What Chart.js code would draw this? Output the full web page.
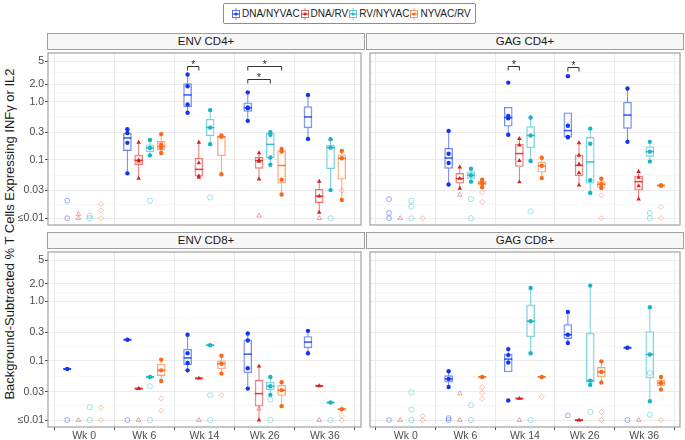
<!DOCTYPE html>
<html>
<head>
<meta charset="utf-8">
<script src="https://cdn.jsdelivr.net/npm/chart.js@4.4.1/dist/chart.umd.min.js"></script>
<style>
  html, body { margin: 0; padding: 0; }
  body { width: 685px; height: 440px; position: relative; overflow: hidden; background: #fff; font-family: 'Liberation Sans', Arial, sans-serif; }
  canvas { position: absolute; }
  .strip { position: absolute; box-sizing: border-box; height: 17px; border: 1.2px solid #a0a0a0; background: #f7f7f7; color: #1a1a1a; font-size: 11.5px; line-height: 15px; text-align: center; }
  #legend { position: absolute; left: 223px; top: 3px; height: 21px; box-sizing: border-box; border: 1.2px solid #8c8c8c; border-radius: 2px; display: flex; align-items: center; padding: 0 4px 0 7px; font-size: 10px; color: #1a1a1a; white-space: nowrap; }
  #legend svg { margin-right: 1px; }
  #ytitle { position: absolute; width: 440px; height: 16px; left: -210px; top: 226px; transform: rotate(-90deg); text-align: center; font-size: 13px; line-height: 16px; color: #1a1a1a; white-space: nowrap; }
</style>
</head>
<body>
<div id="legend"></div>
<div id="ytitle">Background-Subtracted % T Cells Expressing INFγ or IL2</div>
<div class="strip" style="left:47px;top:33px;width:318px">ENV CD4+</div>
<div class="strip" style="left:366px;top:33px;width:318px">GAG CD4+</div>
<div class="strip" style="left:47px;top:232px;width:318px">ENV CD8+</div>
<div class="strip" style="left:366px;top:232px;width:318px">GAG CD8+</div>
<canvas id="envCd4" width="348" height="182" style="left:18px;top:48px"></canvas>
<canvas id="gagCd4" width="320" height="182" style="left:365px;top:48px"></canvas>
<canvas id="envCd8" width="348" height="193" style="left:18px;top:247px"></canvas>
<canvas id="gagCd8" width="320" height="193" style="left:365px;top:247px"></canvas>
<script>
(function(){
    "use strict";

    const weeks = ['Wk 0', 'Wk 6', 'Wk 14', 'Wk 26', 'Wk 36'];
    const groups = ['DNA/NYVAC', 'DNA/RV', 'RV/NYVAC', 'NYVAC/RV'];
    const yMajor = [0.01, 0.03, 0.1, 0.3, 1, 2, 5];
    const yMajorLabels = ['≤0.01', '0.03', '0.1', '0.3', '1.0', '2.0', '5'];

    // box stats per group per week: [lower whisker, q1, median, q3, upper whisker]
    const envCd4Box = [
        [null, [0.059,0.145,0.239,0.286,0.337], [0.647,0.826,1.31,2.05,2.93], [0.47,0.681,0.784,0.962,1.45], [0.23,0.355,0.548,0.826,1.31]],
        [null, [0.048,0.0835,0.0987,0.121,0.2], [0.05,0.0527,0.069,0.107,0.2], [0.047,0.0718,0.0975,0.111,0.132], [0.0126,0.0185,0.0239,0.0312,0.043]],
        [null, [0.12,0.138,0.161,0.182,0.221], [0.187,0.261,0.36,0.501,0.718], [0.0826,0.108,0.185,0.29,0.301], [0.0304,0.0708,0.163,0.18,0.227]],
        [null, [0.132,0.147,0.171,0.21,0.278], [0.057,0.118,0.25,0.258,0.264], [0.0255,0.04,0.0805,0.145,0.155], [0.0205,0.047,0.107,0.123,0.143]]
    ];
    const envCd4Pts = [
        [[], [0.337,0.29,0.197,0.059], [2.93,1.84,0.9,0.647], [1.45,0.8,0.77,0.47], [1.31,0.23]],
        [[], [0.2,0.1,0.095,0.048], [0.2,0.089,0.053,0.05], [0.132,0.1,0.094,0.047], [0.043,0.024,0.0126]],
        [[], [0.221,0.161,0.12], [0.718,0.36,0.187], [0.301,0.27,0.11,0.083], [0.227,0.163,0.0304]],
        [[], [0.278,0.185,0.16,0.132], [0.264,0.25,0.057], [0.155,0.14,0.046,0.0255], [0.143,0.107,0.0205]]
    ];
    const envCd4Open = [
        [[0.02,0.01], [], [], [], []],
        [[0.0118,0.01], [], [], [0.011], [0.01]],
        [[0.011,0.01], [0.02], [0.0227], [], [0.01]],
        [[0.0175,0.0136,0.01], [], [], [], [0.03]]
    ];
    // [week, from group, to group, bracket level]
    const envCd4Sig = [[2,0,1,4.1], [3,0,3,4.1], [3,0,2,2.5]];

    const gagCd4Box = [
        [null, [0.0378,0.0718,0.108,0.158,0.316], [0.271,0.38,0.535,0.805,0.805], [0.245,0.248,0.32,0.647,0.647], [0.205,0.35,0.591,0.986,1.69]],
        [null, [0.0325,0.04,0.048,0.059,0.0755], [0.0419,0.0774,0.129,0.187,0.233], [0.0369,0.0535,0.0805,0.123,0.197], [0.0213,0.0304,0.0425,0.0527,0.063]],
        [null, [0.0425,0.0482,0.0548,0.0623,0.0708], [0.0962,0.161,0.264,0.373,0.535], [0.0271,0.0398,0.0927,0.245,0.346], [0.0938,0.115,0.139,0.169,0.205]],
        [null, [0.0341,0.0369,0.0398,0.043,0.0458], [0.0489,0.0615,0.0794,0.0927,0.109], [0.033,0.0337,0.0383,0.0425,0.0477], [0.0364,0.0364,0.0364,0.0364,0.0364]]
    ];
    const gagCd4Pts = [
        [[], [0.316,0.128,0.089,0.038], [2.13,0.57,0.52,0.271], [2.75,0.388,0.248,0.245], [1.69,0.205]],
        [[], [0.0755,0.048,0.0325], [0.233,0.18,0.0975,0.0419], [0.197,0.12,0.085,0.06,0.037], [0.063,0.05,0.036,0.0213]],
        [[], [0.0708,0.0548,0.0425], [0.535,0.264,0.0962], [0.346,0.19,0.045,0.0271], [0.205,0.139,0.0938]],
        [[], [0.0458,0.0398,0.0341], [0.109,0.0794,0.0489], [0.0477,0.0383,0.033], [0.0364,0.0364]]
    ];
    const gagCd4Open = [
        [[0.0213,0.0123,0.01], [], [], [], []],
        [[0.01], [0.0251], [], [], []],
        [[0.02,0.0158,0.01], [0.0213,0.01], [0.0131], [], [0.0123,0.01]],
        [[0.01], [0.0282,0.019], [], [0.0248,0.01], [0.0155,0.01]]
    ];
    const gagCd4Sig = [[2,0,1,4.1], [3,0,1,4.0]];

    const envCd8Box = [
        [[0.073,0.073,0.073,0.073,0.073], [0.227,0.227,0.227,0.227,0.227], [0.0692,0.0863,0.112,0.158,0.275], [0.034,0.0625,0.13,0.227,0.29], [0.134,0.166,0.207,0.258,0.321]],
        [null, [0.034,0.034,0.034,0.034,0.034], [0.0508,0.0508,0.0508,0.0508,0.0508], [0.01,0.0172,0.028,0.047,0.081], [0.0378,0.0378,0.0378,0.0378,0.0378]],
        [null, [0.0535,0.0535,0.0535,0.0535,0.0535], [0.184,0.184,0.184,0.184,0.184], [0.0267,0.0327,0.0372,0.044,0.0535], [0.0198,0.0198,0.0198,0.0198,0.0198]],
        [null, [0.0458,0.0563,0.0692,0.0885,0.105], [0.0609,0.073,0.0896,0.1,0.122], [0.0172,0.026,0.0319,0.0387,0.0435], [0.0153,0.0153,0.0153,0.0153,0.0153]]
    ];
    const envCd8Pts = [
        [[0.073], [0.227], [0.275,0.135,0.092,0.0692], [0.29,0.22,0.075,0.034], [0.321,0.134]],
        [[], [0.034,0.034], [0.0508], [0.081,0.01], [0.0378]],
        [[], [0.0535], [0.184], [0.0535,0.0372,0.0267], [0.0198]],
        [[], [0.105,0.0692,0.0458], [0.122,0.0896,0.0609], [0.0435,0.032,0.0172], [0.0153]]
    ];
    const envCd8Open = [
        [[0.01], [0.01], [], [], []],
        [[0.01], [0.01], [0.01], [0.0155], [0.01]],
        [[0.0166,0.01], [0.0372,0.01], [0.0263,0.01], [0.0222,0.01], [0.01]],
        [[0.0162,0.01], [0.0231,0.0145], [0.0263], [], [0.0117,0.01]]
    ];

    const gagCd8Box = [
        [null, [0.0363,0.0435,0.0495,0.0563,0.0667], [0.0649,0.0649,0.107,0.13,0.158], [0.2,0.236,0.275,0.41,0.67], [0.166,0.166,0.166,0.166,0.166]],
        [null, null, [0.0231,0.0231,0.0231,0.0231,0.0231], [0.01,0.01,0.01,0.01,0.01], null],
        [null, null, [0.134,0.254,0.467,0.879,1.7], [0.0393,0.0435,0.0464,0.294,1.86], [0.0208,0.0514,0.128,0.313,0.803]],
        [null, [0.0535,0.0535,0.0535,0.0535,0.0535], [0.0535,0.0535,0.0535,0.0535,0.0535], [0.043,0.0535,0.0649,0.0778,0.098], [0.0327,0.0383,0.0424,0.047,0.0535]]
    ];
    const gagCd8Pts = [
        [[], [0.0667,0.0495,0.0363], [0.158,0.125,0.094,0.0214], [0.67,0.275,0.2], [0.166]],
        [[], [], [0.0231], [0.01], []],
        [[], [], [1.7,0.467,0.134], [1.86,0.0464,0.0393], [0.803,0.128,0.0208]],
        [[], [0.0535], [0.0535], [0.098,0.0649,0.043], [0.0535,0.0424,0.0327]]
    ];
    const gagCd8Open = [
        [[0.01], [0.0108,0.01], [], [0.012], [0.01]],
        [[0.01], [0.028,0.01], [0.01], [], [0.01]],
        [[0.0292,0.0151,0.01], [0.0179,0.01], [0.01], [0.0138], [0.0625,0.0123]],
        [[0.0117,0.01], [0.0359,0.0288,0.0229], [0.0247], [0.0137,0.01], [0.01]]
    ];

    const colors = ['#1136F2', '#D81F1B', '#19B4C6', '#F8691A'];
    const fillShapes = ['circle', 'triangle', 'circle', 'circle'];
    const openShapes = ['rectRounded', 'triangle', 'circle', 'rectRot'];
    const dodge = [-0.281, -0.094, 0.094, 0.281];
    const yMinor = yMajor.slice(1).map((v, i) => Math.sqrt(v * yMajor[i]));
    const yTicks = yMajor.concat(yMinor).sort((a, b) => a - b);
    const isMajor = v => yMajor.indexOf(v) >= 0;

    function rgba(hex, a) {
        const n = parseInt(hex.slice(1), 16);
        return `rgba(${n >> 16},${(n >> 8) & 255},${n & 255},${a})`;
    }

    // whiskers + medians drawn right after each group's box layer
    const boxPlugin = {
        id: 'boxExtras',
        afterDatasetDraw(chart, args, opts) {
            const ds = chart.data.datasets[args.index];
            if (ds.type !== 'bar') return;
            const gi = groups.indexOf(ds.label);
            const xs = chart.scales.x, ys = chart.scales.y, ctx = chart.ctx;
            const c = colors[gi];
            ctx.save();
            opts.stats[gi].forEach((s, wi) => {
                if (!s) return;
                const x = xs.getPixelForValue(wi + dodge[gi]);
                const [lo, q1, med, q3, hi] = s.map(v => ys.getPixelForValue(v));
                ctx.strokeStyle = rgba(c, 0.6); ctx.lineWidth = 1;
                ctx.beginPath();
                ctx.moveTo(x, lo); ctx.lineTo(x, q1);
                ctx.moveTo(x, q3); ctx.lineTo(x, hi);
                ctx.stroke();
                const flat = s[1] === s[3];
                ctx.strokeStyle = rgba(c, flat ? 0.9 : 0.85); ctx.lineWidth = flat ? 2 : 1.5;
                ctx.beginPath(); ctx.moveTo(x - 4, med); ctx.lineTo(x + 4, med); ctx.stroke();
            });
            ctx.restore();
        },
        afterDatasetsDraw(chart, args, opts) {
            const xs = chart.scales.x, ys = chart.scales.y, ctx = chart.ctx;
            ctx.save();
            ctx.strokeStyle = '#333'; ctx.fillStyle = '#222'; ctx.lineWidth = 1;
            ctx.font = '10px "Liberation Sans", Arial'; ctx.textAlign = 'center'; ctx.textBaseline = 'alphabetic';
            (opts.sig || []).forEach(([wi, g1, g2, lvl]) => {
                const x1 = xs.getPixelForValue(wi + dodge[g1]), x2 = xs.getPixelForValue(wi + dodge[g2]);
                const y = Math.round(ys.getPixelForValue(lvl)) + 0.5;
                ctx.beginPath(); ctx.moveTo(x1, y + 4); ctx.lineTo(x1, y); ctx.lineTo(x2, y); ctx.lineTo(x2, y + 4); ctx.stroke();
                ctx.fillText('*', (x1 + x2) / 2, y + 1);
            });
            const a = chart.chartArea;
            ctx.strokeStyle = '#a0a0a0'; ctx.lineWidth = 1.2;
            ctx.strokeRect(a.left, a.top, a.right - a.left, a.bottom - a.top);
            ctx.restore();
        }
    };

    function makePanel(id, box, pts, open, sig, showY, showX) {
        const datasets = [];
        groups.forEach((g, gi) => {
            const boxData = [], ptData = [], openData = [];
            box[gi].forEach((s, wi) => { if (s && s[1] < s[3]) boxData.push({ x: wi + dodge[gi], y: [s[1], s[3]] }); });
            pts[gi].forEach((arr, wi) => arr.forEach(v => ptData.push({ x: wi + dodge[gi], y: v })));
            open[gi].forEach((arr, wi) => arr.forEach(v => openData.push({ x: wi + dodge[gi], y: v })));
            datasets.push({ type: 'bar', label: g, data: boxData, order: 3, grouped: false, barThickness: 8,
                borderWidth: 1, borderSkipped: false, borderColor: rgba(colors[gi], 0.6), backgroundColor: 'rgba(255,255,255,0.5)' });
            datasets.push({ type: 'scatter', label: g + ' open', data: openData, order: 2, pointStyle: openShapes[gi],
                pointRadius: 2.6, borderWidth: 1, borderColor: rgba(colors[gi], 0.4), backgroundColor: 'rgba(0,0,0,0)' });
            datasets.push({ type: 'scatter', label: g + ' pts', data: ptData, order: 1, pointStyle: fillShapes[gi],
                pointRadius: gi === 1 ? 2.6 : 2.2, borderWidth: 0, backgroundColor: colors[gi] });
        });

        const tickFont = { family: '"Liberation Sans", Arial, sans-serif', size: 10.5 };
        new Chart(document.getElementById(id), {
            type: 'scatter',
            data: { datasets },
            options: {
                responsive: false, animation: false, events: [],
                layout: { padding: { top: 2, right: 2, left: showY ? 0 : 2, bottom: showX ? 0 : 2 } },
                plugins: { legend: { display: false }, tooltip: { enabled: false }, boxExtras: { stats: box, sig } },
                scales: {
                    x: {
                        type: 'linear', min: -0.6, max: 4.6, offset: false,
                        afterBuildTicks: s => { s.ticks = weeks.map((w, i) => ({ value: i })); },
                        afterFit: s => { s.height = showX ? 13 : 0; },
                        ticks: { display: showX, autoSkip: false, maxRotation: 0, padding: 0, color: '#4d4d4d', font: tickFont,
                            callback: v => weeks[v] },
                        grid: { color: '#ebebeb', lineWidth: 1, drawTicks: showX, tickLength: 3, tickColor: '#4d4d4d', tickWidth: 1 },
                        border: { display: false }
                    },
                    y: {
                        type: 'logarithmic', min: 0.00765, max: 6.87,
                        afterBuildTicks: s => { s.ticks = yTicks.map(v => ({ value: v })); },
                        afterFit: s => { s.width = showY ? 30 : 0; s.paddingTop = 0; s.paddingBottom = 0; },
                        ticks: { display: showY, autoSkip: false, padding: 1, color: '#4d4d4d', font: tickFont,
                            callback: v => { const i = yMajor.indexOf(v); return i >= 0 ? yMajorLabels[i] : ''; } },
                        grid: {
                            color: c => (c.tick && !isMajor(c.tick.value)) ? '#f4f4f4' : '#ebebeb',
                            lineWidth: c => (c.tick && !isMajor(c.tick.value)) ? 0.7 : 1,
                            drawTicks: showY, tickLength: 3, tickWidth: 1,
                            tickColor: c => (c.tick && isMajor(c.tick.value)) ? '#4d4d4d' : 'rgba(0,0,0,0)'
                        },
                        border: { display: false }
                    }
                }
            },
            plugins: [boxPlugin]
        });
    }

    makePanel('envCd4', envCd4Box, envCd4Pts, envCd4Open, envCd4Sig, true, false);
    makePanel('gagCd4', gagCd4Box, gagCd4Pts, gagCd4Open, gagCd4Sig, false, false);
    makePanel('envCd8', envCd8Box, envCd8Pts, envCd8Open, [], true, true);
    makePanel('gagCd8', gagCd8Box, gagCd8Pts, gagCd8Open, [], false, true);

    const legend = document.getElementById('legend');
    groups.forEach((g, gi) => {
        const c = colors[gi];
        const item = document.createElement('span');
        item.style.display = 'inline-flex'; item.style.alignItems = 'center';
        item.innerHTML = `<svg width="10" height="12"><line x1="5" y1="0" x2="5" y2="12" stroke="${rgba(c,0.6)}"/>` +
            `<rect x="1.5" y="2.5" width="7" height="7" fill="#fff" stroke="${rgba(c,0.7)}"/>` +
            `<line x1="1.5" y1="6" x2="8.5" y2="6" stroke="${c}"/><circle cx="5" cy="6" r="1.5" fill="${c}"/></svg><span>${g}</span>`;
        legend.appendChild(item);
    });
})();
</script>
</body>
</html>
